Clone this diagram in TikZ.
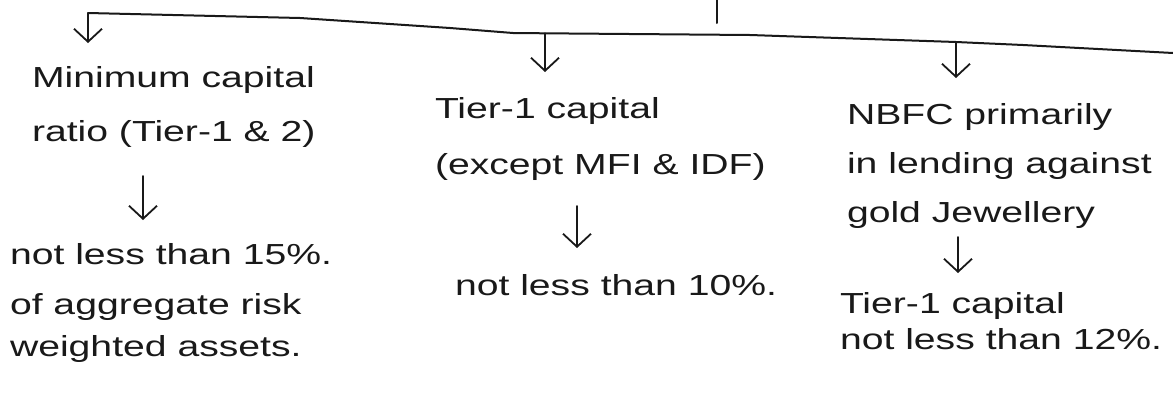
\documentclass[tikz,border=0pt]{standalone}
\usepackage{fontspec}
\setmainfont{Liberation Sans}[FakeStretch=1.35]
\usetikzlibrary{arrows.meta}
\begin{document}
\begin{tikzpicture}[x=1pt,y=-1pt,
  txt/.style={anchor=north west, inner sep=0pt, outer sep=0pt, align=left,
    text=black!90,
    execute at begin node={\rule{0pt}{25pt}},
    execute at end node={\rule[-10pt]{0pt}{0pt}}},
  fs/.style={font=\fontsize{29}{#1}\selectfont},
  arr/.style={-{Straight Barb[length=13pt,width=28pt,line width=1.8pt]}, line width=1.8pt, line cap=round, draw=black!90},
  bar/.style={line width=2pt, line cap=round, line join=round, draw=black!90}
]
\useasboundingbox (0,0) rectangle (1173,402);

% top branch line
\coordinate (b1) at (88,13);
\coordinate (b2) at (545,33.3);
\coordinate (b3) at (956,42);
\coordinate (t0) at (717,-2);
\coordinate (t1) at (717,23);
\draw[bar] (b1) -- (300,18) -- (450,28) -- (513,33) -- (b2) -- (750,35) -- (b3) -- (1023,45) -- (1173,53);
\draw[bar] (t0) -- (t1);

% text blocks
\node[txt, fs=54] (L1) at (32,66) {Minimum capital\\ratio (Tier-1 \& 2)};
\node[txt, fs=42] (L2) at (10,243) {not less than 15\%.\\[8pt]of aggregate risk\\weighted assets.};
\node[txt, fs=56] (M1) at (435,97) {Tier-1 capital\\(except MFI \& IDF)};
\node[txt, fs=50] (M2) at (455,270) {not less than 10\%.};
\node[txt, fs=49] (R1) at (847,103) {NBFC primarily\\in lending against\\gold Jewellery};
\node[txt, fs=36] (R2) at (840,292) {Tier-1 capital\\not less than 12\%.};

% arrow x positions
\coordinate (a4) at (143,0);
\coordinate (a5) at (577,0);
\coordinate (a6) at (958,0);

% connectors
\draw[arr, shorten >=23pt] (b1) -- (b1 |- L1.north);
\draw[arr, shorten >=25pt] (b2) -- (b2 |- M1.north);
\draw[arr, shorten >=25pt] (b3) -- (b3 |- R1.north);
\draw[arr, shorten <=25pt, shorten >=23pt] (L1.south -| a4) -- (L2.north -| a4);
\draw[arr, shorten <=22pt, shorten >=22pt] (M1.south -| a5) -- (M2.north -| a5);
\draw[arr, shorten <=5pt, shorten >=19pt] (R1.south -| a6) -- (R2.north -| a6);
\end{tikzpicture}
\end{document}
